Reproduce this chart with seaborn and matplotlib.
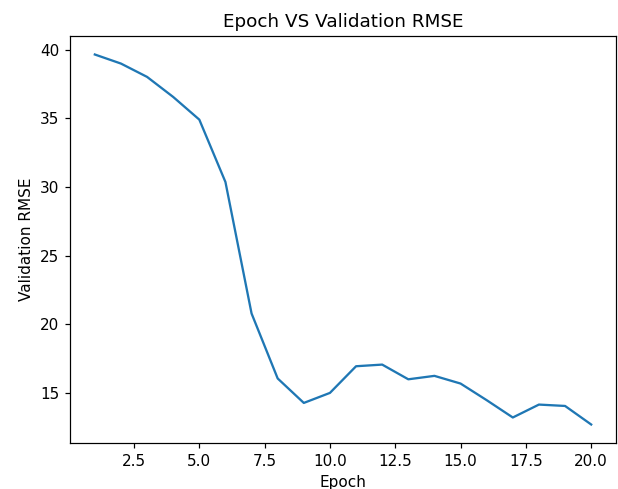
import matplotlib
matplotlib.use("Agg")
import matplotlib.pyplot as plt
import seaborn as sns
import pandas as pd

epochs = list(range(1, 21))
val_rmse = [39.64, 38.98, 38.01, 36.55, 34.9, 30.36, 20.79, 16.06, 14.28, 15.01,
            16.95, 17.07, 16.0, 16.25, 15.69, 14.48, 13.22, 14.16, 14.06, 12.71]

df = pd.DataFrame({"Epoch": epochs, "Validation RMSE": val_rmse})

fig = plt.figure(figsize=(618 / 110, 489 / 110), dpi=110)
ax = fig.add_axes([70 / 618, 1 - 443 / 489, (616 - 70) / 618, (443 - 36) / 489])
sns.lineplot(data=df, x="Epoch", y="Validation RMSE", ax=ax, color="#1f77b4", linewidth=1.5)
ax.set_title("Epoch VS Validation RMSE")
ax.set_xlabel("Epoch")
ax.set_ylabel("Validation RMSE")
fig.savefig("out.png", dpi=110)
